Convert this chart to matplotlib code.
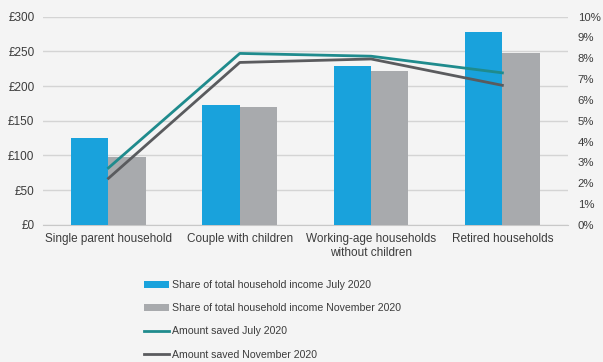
import numpy as np
import matplotlib
matplotlib.use("Agg")
import matplotlib.pyplot as plt

plt.rcParams['font.family'] = ['Liberation Sans', 'DejaVu Sans']

categories = ["Single parent household", "Couple with children",
              "Working-age households\nwithout children", "Retired households"]
share_jul = [4.17, 5.75, 7.65, 9.25]      # % of total household income
share_nov = [3.25, 5.65, 7.41, 8.26]
saved_jul = [82, 247, 243, 219]           # £
saved_nov = [67, 234, 239, 201]

bg = "#f4f4f4"
blue = "#19a2dc"
grey_bar = "#a8aaad"
teal = "#1f8b8d"
dark = "#5a5b5e"
text_c = "#3c3c3c"

fig = plt.figure(figsize=(6.03, 3.62), dpi=100, facecolor=bg)
ax = fig.add_axes([0.071, 0.379, 0.871, 0.575], facecolor=bg)
ax2 = ax.twinx()

x = np.arange(len(categories))
w = 0.285

# bars on the percentage axis
ax2.bar(x - w / 2, share_jul, w, color=blue, label="Share of total household income July 2020", zorder=2)
ax2.bar(x + w / 2, share_nov, w, color=grey_bar, label="Share of total household income November 2020", zorder=2)

# lines on the pound axis, drawn on top of the bars
ax3 = ax2.twinx()
ax3.plot(x, saved_jul, color=teal, lw=2, label="Amount saved July 2020")
ax3.plot(x, saved_nov, color=dark, lw=2, label="Amount saved November 2020")
ax3.set_ylim(0, 300)
ax3.axis("off")
ax2.yaxis.tick_right()

ax.set_ylim(0, 300)
ax.set_yticks(np.arange(0, 301, 50))
ax.set_yticklabels([f"£{v}" for v in range(0, 301, 50)])
ax2.set_ylim(0, 10)
ax2.set_yticks(np.arange(0, 11, 1))
ax2.set_yticklabels([f"{v}%" for v in range(0, 11)])
ax.set_xlim(-0.5, 3.5)
ax.set_xticks(x)
ax.set_xticklabels(categories)

ax.grid(axis="y", color="#d4d4d4", lw=1)
ax.set_axisbelow(True)
for a in (ax, ax2):
    for s in a.spines.values():
        s.set_visible(False)
    a.tick_params(length=0, colors=text_c, labelsize=8.5)
ax.spines["bottom"].set_visible(True)
ax.spines["bottom"].set_color("#c8c8c8")
ax.tick_params(axis="x", pad=6)
ax.tick_params(axis="y", pad=6)
ax2.tick_params(axis="y", pad=7, labelsize=8.2)

handles = ax2.get_legend_handles_labels()[0] + ax3.get_legend_handles_labels()[0]
labels = ax2.get_legend_handles_labels()[1] + ax3.get_legend_handles_labels()[1]
fig.legend(handles, labels, loc="upper left", bbox_to_anchor=(0.232, 0.238),
           frameon=False, labelcolor=text_c, handlelength=2.4, fontsize=7.6,
           handleheight=0.55, handletextpad=0.25, labelspacing=1.25, borderaxespad=0)

fig.savefig("out.png", dpi=100, facecolor=bg)
